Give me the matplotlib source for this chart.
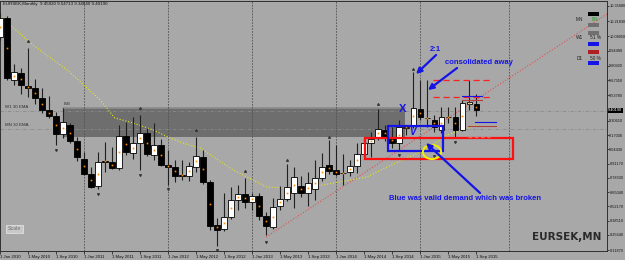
import matplotlib
matplotlib.use('Agg')
import matplotlib.pyplot as plt
from matplotlib.patches import Rectangle, Ellipse

# EURSEK monthly candles, Jan 2010 .. Sep 2015
opens = [10.0724, 10.2467, 9.6780, 9.7422, 9.6230, 9.6047, 9.5129, 9.4029, 9.3478, 9.1828,
         9.2653, 9.1185, 8.9535, 8.8159, 8.7058, 8.9351, 8.9259, 8.8709, 9.1644, 9.0085,
         9.1002, 9.1919, 8.9901, 9.0819, 8.8984, 8.8801, 8.8067, 8.7975, 8.8801, 8.9718,
         8.7425, 8.3481, 8.3114, 8.4215, 8.5774, 8.6324, 8.5591, 8.6141, 8.4306, 8.3298,
         8.5224, 8.5866, 8.6416, 8.7058, 8.6416, 8.6783, 8.7792, 8.8984, 8.8526, 8.8250,
         8.8342, 8.8892, 8.9993, 9.1002, 9.1552, 9.2194, 9.1461, 9.1002, 9.2378, 9.2653,
         9.4121, 9.3295, 9.3112, 9.2194, 9.3387, 9.3387, 9.2194, 9.4579, 9.4592]
highs = [10.2926, 10.2650, 9.8248, 9.7881, 9.9715, 9.6872, 9.6047, 9.5313, 9.3845, 9.4212,
         9.2836, 9.1552, 9.0177, 8.8801, 9.0177, 9.1094, 9.0635, 9.2653, 9.2928, 9.3387,
         9.3570, 9.2378, 9.2836, 9.1369, 9.0360, 8.9443, 8.9443, 8.9259, 9.1552, 9.0360,
         8.7608, 8.4123, 8.6416, 8.6966, 8.7150, 8.7792, 8.6416, 8.6416, 8.4673, 8.5957,
         8.7058, 8.9076, 8.8801, 8.7975, 8.8342, 8.9443, 9.0085, 9.1277, 9.0819, 8.9993,
         8.9443, 9.1002, 9.1461, 9.2011, 9.4121, 9.2653, 9.2470, 9.3112, 9.2653, 9.7514,
         9.6780, 9.6780, 9.3570, 9.4304, 9.4304, 9.4304, 9.4946, 9.6780, 9.5471]
lows = [10.0449, 9.6780, 9.6322, 9.5496, 9.5221, 9.4579, 9.3754, 9.3295, 9.0819, 9.1461,
        9.1002, 8.9351, 8.8067, 8.6875, 8.6783, 8.8342, 8.8617, 8.8526, 8.9901, 8.9535,
        8.8526, 8.9810, 8.9443, 8.8892, 8.7150, 8.7425, 8.7608, 8.7517, 8.8342, 8.7242,
        8.3022, 8.1555, 8.2931, 8.4031, 8.4857, 8.5040, 8.4857, 8.3940, 8.2564, 8.3114,
        8.4857, 8.5682, 8.5040, 8.6049, 8.5224, 8.5774, 8.7517, 8.8159, 8.7975, 8.7150,
        8.7975, 8.8250, 8.9718, 8.9718, 9.1277, 9.1185, 9.0543, 9.0268, 9.1736, 9.2378,
        9.3112, 9.2470, 9.2011, 9.1919, 9.2836, 9.1552, 9.2103, 9.4029, 9.3464]
closes = [10.2467, 9.6964, 9.7514, 9.6322, 9.6047, 9.5129, 9.4029, 9.3478, 9.1828, 9.2928,
          9.1185, 8.9718, 8.8159, 8.6966, 8.9259, 8.9259, 8.8709, 9.1644, 9.0177, 9.1002,
          9.1919, 8.9993, 9.0819, 8.8984, 8.8801, 8.7975, 8.7975, 8.8892, 8.9810, 8.7425,
          8.3389, 8.3022, 8.4215, 8.5774, 8.6324, 8.5591, 8.6141, 8.4306, 8.3389, 8.5132,
          8.5866, 8.6966, 8.7884, 8.6416, 8.7333, 8.7792, 8.8801, 8.8434, 8.8159, 8.8210,
          8.8892, 8.9993, 9.1002, 9.1369, 9.2286, 9.1644, 9.1002, 9.2470, 9.2470, 9.4212,
          9.3387, 9.3260, 9.2470, 9.3387, 9.3350, 9.2194, 9.4671, 9.4763, 9.4019]

# 30 EMA on the monthly chart (month index, price)
ema_x = [0, 4.7, 9.6, 14.3, 16.4, 19.0, 21.9, 24.0, 26.1, 28.6, 33.3, 38.1, 42.9, 47.6,
         52.4, 55.3, 58.1, 60.7, 63.9, 68.1]
ema_y = [10.265, 9.999, 9.770, 9.495, 9.330, 9.284, 9.219, 9.155, 9.100, 9.054, 8.853,
         8.697, 8.678, 8.733, 8.788, 8.880, 8.963, 9.036, 9.174, 9.265]

# fractals
frac_up_x = [4, 20, 28, 35, 41, 47, 54, 59]
frac_up_y = [10.017, 9.403, 9.201, 8.825, 8.926, 9.137, 9.440, 9.761]
frac_dn_x = [8, 14, 20, 24, 31, 38, 57, 62, 65]
frac_dn_y = [9.054, 8.651, 8.825, 8.697, 8.137, 8.211, 9.009, 8.999, 9.128]

date_labels = ['1 Jan 2010', '1 May 2010', '1 Sep 2010', '1 Jan 2011', '1 May 2011', '1 Sep 2011',
               '1 Jan 2012', '1 May 2012', '1 Sep 2012', '1 Jan 2013', '1 May 2013', '1 Sep 2013',
               '1 Jan 2014', '1 May 2014', '1 Sep 2014', '1 Jan 2015', '1 May 2015', '1 Sep 2015']
price_ticks = [10.3568, 10.2183, 10.0805, 9.9449, 9.8092, 9.6735, 9.5378, 9.3061, 9.1700,
               9.0443, 8.9117, 8.7830, 8.6504, 8.5217, 8.3851, 8.2564, 8.1187]
last_price = 9.4019

bg = '#a8a8a8'
blue = '#1414e6'
small = ['Liberation Sans', 'DejaVu Sans']

fig = plt.figure(figsize=(6.25, 2.6), dpi=100, facecolor=bg)
ax = fig.add_axes([0, 9 / 260, 607 / 625, 250 / 260])
ax.set_facecolor(bg)
ax.set_xlim(0, 86.71)
ax.set_ylim(8.1096, 10.4026)

# zone and ema lines
ax.add_patch(Rectangle((9.0, 9.1552), 48.9, 0.266, facecolor='#6e6e6e', edgecolor='none', zorder=1))
ax.plot([9.0, 57.9], [9.418, 9.418], color='#8c8c8c', lw=1.2, zorder=1)
ax.axhline(9.3937, color='#8a8a8a', lw=0.6, ls=(0, (4, 2, 1, 2)), zorder=1)
ax.axhline(9.2286, color='#8a8a8a', lw=0.6, ls=(0, (4, 2, 1, 2)), zorder=1)
ax.text(0.7, 9.41, 'W1 30 EMA', fontsize=3.2, color='#303030', va='bottom', family=small)
ax.text(0.7, 9.245, 'MN 30 EMA', fontsize=3.2, color='#303030', va='bottom', family=small)
ax.text(9.1, 9.44, 'ISB', fontsize=3.2, color='#303030', va='bottom', family=small)

for gx in [12, 24, 36, 48, 60, 72.7]:
    ax.axvline(gx, color='#505050', lw=0.6, ls=(0, (2, 1.5)), zorder=1)

ax.plot(ema_x, ema_y, color='#e6e619', lw=0.8, ls=':', zorder=2)
ax.plot([38, 86.71], [8.238, 10.283], color='#e05050', lw=0.8, ls=':', zorder=2)

# candles
for i in range(len(opens)):
    o, h, l, c = opens[i], highs[i], lows[i], closes[i]
    ax.vlines(i, l, h, color='#202020', lw=0.8, zorder=3)
    bot = min(o, c)
    hgt = max(abs(c - o), 0.006)
    fc = 'white' if c > o else 'black'
    ax.bar(i, hgt, bottom=bot, width=0.72, color=fc, edgecolor='black', lw=0.6, zorder=4)
    ax.plot(i, (o + c) / 2, marker='s', ms=1.2, color='#ff8c00', mew=0, zorder=5)

ax.scatter(frac_up_x, [y + 0.02 for y in frac_up_y], marker='^', s=1.2, color='#303030', zorder=5)
ax.scatter(frac_dn_x, [y - 0.02 for y in frac_dn_y], marker='v', s=1.2, color='#303030', zorder=5)

# annotations
ax.add_patch(Rectangle((52.14, 8.9535), 21.15, 0.1926, fill=False, edgecolor='#ff1010', lw=1.6, zorder=6))
ax.add_patch(Rectangle((55.43, 9.0268), 7.86, 0.2294, fill=False, edgecolor=blue, lw=1.6, zorder=6))
ax.add_patch(Ellipse((61.71, 9.0177), 2.6, 0.13, fill=False, edgecolor='#f0f000', lw=1.4, zorder=6))
ax.plot([61.86, 70.43], [9.678, 9.678], color='#ff2020', lw=0.9, ls=(0, (5, 3)), zorder=6)
ax.plot([61.86, 70.43], [9.522, 9.522], color='#ff2020', lw=0.9, ls=(0, (5, 3)), zorder=6)
ax.plot([66.0, 68.9], [9.531, 9.531], color=blue, lw=0.8, zorder=6)
ax.plot([66.0, 68.9], [9.495, 9.495], color='#b04040', lw=0.8, zorder=6)
ax.plot([67.9, 70.9], [9.293, 9.293], color=blue, lw=0.8, zorder=6)
ax.plot([66.9, 70.9], [9.256, 9.256], color='#b04040', lw=0.8, zorder=6)
ax.plot([66.9, 70.0], [9.155, 9.155], color='#e07070', lw=0.9, ls=(0, (3, 2)), zorder=6)

arrow = dict(arrowstyle='-|>', color=blue, lw=1.6, mutation_scale=8, shrinkA=0, shrinkB=0)
ax.annotate('', xy=(59.43, 9.733), xytext=(62.29, 9.907), arrowprops=arrow, zorder=7)
ax.annotate('', xy=(61.14, 9.586), xytext=(65.29, 9.788), arrowprops=arrow, zorder=7)
ax.annotate('', xy=(60.86, 9.100), xytext=(68.57, 8.642), arrowprops=arrow, zorder=7)
ax.text(62.14, 9.962, '2:1', fontsize=5.5, color=blue, fontweight='bold', ha='center', va='center',
        family='Liberation Sans')
ax.text(63.57, 9.843, 'consolidated away', fontsize=5.5, color=blue, fontweight='bold', va='center',
        family='Liberation Sans')
ax.text(66.43, 8.587, 'Blue was valid demand which was broken', fontsize=5.5, color=blue,
        fontweight='bold', ha='center', va='center', family='Liberation Sans')
ax.text(57.57, 9.412, 'X', fontsize=8, color=blue, fontweight='bold', ha='center', va='center',
        family='Liberation Sans')
ax.text(58.86, 9.201, 'V', fontsize=7, color=blue, fontweight='bold', style='italic', ha='center',
        va='center', family='Liberation Sans')

# strength panel
panel = [(10.2650, 'black'), (10.1642, '#707070'), (10.0908, '#707070'), (9.9899, blue),
         (9.9165, '#b02020'), (9.8156, blue)]
for y0, col in panel:
    ax.add_patch(Rectangle((84.0, y0), 1.6, 0.037, facecolor=col, edgecolor='none', zorder=6))
ax.text(83.3, 10.2375, 'MN', fontsize=3.4, ha='right', va='center', color='#202020', family=small)
ax.text(84.6, 10.2375, '0%', fontsize=3.4, va='center', color='#10a010', family=small)
ax.text(83.3, 10.0633, 'W1', fontsize=3.4, ha='right', va='center', color='#202020', family=small)
ax.text(84.3, 10.0633, '51 %', fontsize=3.4, va='center', color='#202020', family=small)
ax.text(83.3, 9.8707, 'D1', fontsize=3.4, ha='right', va='center', color='#202020', family=small)
ax.text(84.3, 9.8707, '50 %', fontsize=3.4, va='center', color='#202020', family=small)

ax.text(0.005, 0.995, 'EURSEK,Monthly  9.45920 9.54713 9.34640 9.40190', transform=ax.transAxes,
        fontsize=3.2, va='top', color='#101010', family=small)
ax.text(0.013, 0.088, 'Scale', transform=ax.transAxes, fontsize=3.8, color='#707070', va='center',
        family=small, bbox=dict(boxstyle='square,pad=0.3', facecolor='#c8c8c8', edgecolor='#e0e0e0', lw=0.6))
ax.text(0.99, 0.055, 'EURSEK,MN', transform=ax.transAxes, fontsize=7.5, fontweight='bold',
        color='#2a2a2a', ha='right', va='center', family=['Liberation Sans Narrow', 'DejaVu Sans'])

# axes
for s in ax.spines.values():
    s.set_color('#303030')
    s.set_linewidth(0.7)
ax.set_xticks(range(0, 69, 4))
ax.set_xticklabels(date_labels, fontsize=3.1, ha='left', color='#101010', family=small)
ax.tick_params(axis='x', length=2, width=0.5, pad=1, colors='#101010')
ax.yaxis.tick_right()
ax.set_yticks(price_ticks)
ax.set_yticklabels(['%.5f' % v for v in price_ticks], fontsize=2.75, color='#101010', family=small)
ax.tick_params(axis='y', length=1.2, width=0.5, pad=0.5, colors='#101010')
ax.text(1.002, last_price, '%.5f' % last_price, transform=ax.get_yaxis_transform(), fontsize=2.75,
        color='white', va='center', family=small,
        bbox=dict(boxstyle='square,pad=0.15', facecolor='black', lw=0))

fig.savefig('out.png', dpi=100, facecolor=bg)
